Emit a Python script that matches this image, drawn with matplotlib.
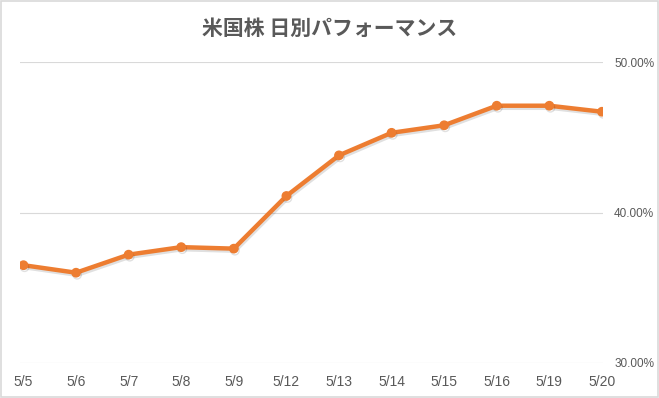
import matplotlib.pyplot as plt
import matplotlib.patheffects as pe
from matplotlib.ticker import FuncFormatter
from matplotlib.patches import Rectangle

plt.rcParams['font.family'] = ['Noto Sans CJK JP', 'DejaVu Sans']

# ==========================
# Data
# ==========================
dates = ['5/5', '5/6', '5/7', '5/8', '5/9', '5/12', '5/13', '5/14', '5/15', '5/16', '5/19', '5/20']
performance = [36.5, 36.0, 37.2, 37.7, 37.6, 41.1, 43.8, 45.3, 45.8, 47.1, 47.1, 46.7]
y_ticks = [30, 40, 50]

title = '米国株 日別パフォーマンス'
text_color = '#595959'
grid_color = '#d9d9d9'
line_color = '#ED7D31'

# ==========================
# Plot
# ==========================
fig = plt.figure(figsize=(6.59, 3.98), dpi=100)
ax = fig.add_axes([0.030, 0.088, 0.885, 0.756])

x = list(range(len(dates)))
ax.plot(x, performance, color=line_color, linewidth=3.2, marker='o', markersize=6,
        solid_capstyle='round', solid_joinstyle='round',
        path_effects=[pe.SimpleLineShadow(offset=(0.8, -1.5), shadow_color='black', alpha=0.12),
                      pe.Normal()])

ax.set_xlim(-0.07, 11.02)
ax.set_ylim(30, 50)
ax.set_xticks(x)
ax.set_xticklabels(dates, fontfamily=['Liberation Sans', 'DejaVu Sans'])
ax.set_yticks(y_ticks)
ax.yaxis.set_major_formatter(FuncFormatter(lambda v, p: f'{v:.2f}%'))
ax.yaxis.tick_right()

for lbl in ax.get_yticklabels():
    lbl.set_fontfamily(['Liberation Sans', 'DejaVu Sans'])

ax.tick_params(axis='x', length=0, labelsize=10, colors=text_color, pad=9)
ax.tick_params(axis='y', length=0, labelsize=8.5, colors=text_color, pad=8)

ax.grid(axis='y', color=grid_color, linewidth=0.8)
ax.set_axisbelow(True)
for side in ['top', 'right', 'left', 'bottom']:
    ax.spines[side].set_visible(False)

fig.text(0.5, 0.928, title, ha='center', va='center', fontsize=15, color=text_color,
         fontweight='bold')

# chart border
fig.patches.append(Rectangle((0.001, 0.002), 0.997, 0.995, transform=fig.transFigure,
                             fill=False, edgecolor=grid_color, linewidth=1.2))

fig.savefig('out.png', dpi=100)
